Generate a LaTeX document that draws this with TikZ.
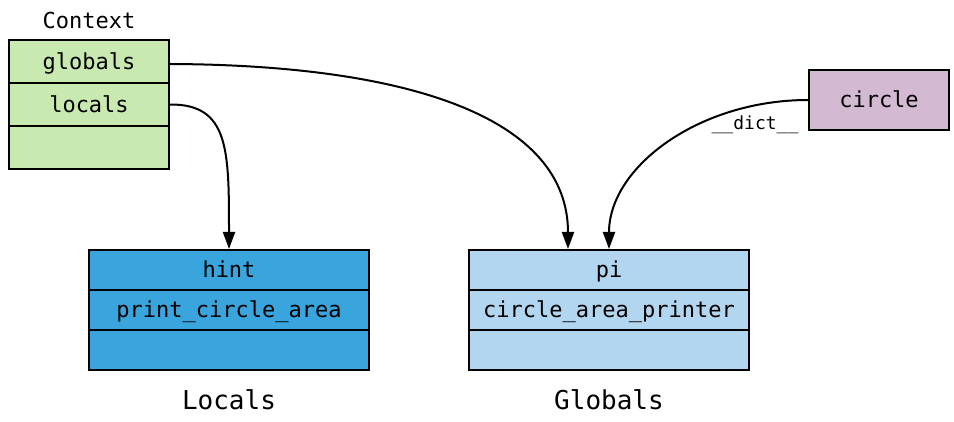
\documentclass[tikz,border=0pt]{standalone}
\usepackage{fontspec}
\setmonofont{DejaVu Sans Mono}
\usetikzlibrary{arrows.meta}
\definecolor{ctxgreen}{RGB}{200,233,175}
\definecolor{locblue}{RGB}{58,164,220}
\definecolor{globblue}{RGB}{178,214,239}
\definecolor{objpurple}{RGB}{211,186,210}
\tikzset{
  cell/.style={draw,line width=1pt,rectangle,inner sep=0pt,text height=10pt,text depth=2.3pt,
    font=\ttfamily\fontsize{11}{13}\selectfont},
  ctxcell/.style={cell,fill=ctxgreen,minimum width=80pt,minimum height=21.5pt},
  loccell/.style={cell,fill=locblue,minimum width=140pt,minimum height=20pt},
  globcell/.style={cell,fill=globblue,minimum width=140pt,minimum height=20pt},
  objcell/.style={cell,fill=objpurple,minimum width=70pt,minimum height=30pt},
  caption/.style={font=\ttfamily\fontsize{13}{15}\selectfont},
  ref/.style={line width=1pt,-{Triangle[length=8.5pt,width=6pt]}}
}
\def\dref{\draw[ref]}

\begin{document}
\begin{tikzpicture}[x=0.5pt,y=-0.5pt]
  \useasboundingbox (0,0) rectangle (954,422);
  % context frame
  \node[font=\ttfamily\fontsize{11}{13}\selectfont] (ctxname) at (89,20) {Context};
  \node[ctxcell] (globals) at (89,61.5) {globals};
  \node[ctxcell] (locals) at (89,104.5) {locals};
  \node[ctxcell] (ctxrest) at (89,148) {};
  % locals
  \node[loccell] (hint) at (229,270) {hint};
  \node[loccell] (pca) at (229,310) {print\_circle\_area};
  \node[loccell] (locrest) at (229,350) {};
  \node[caption] (loccap) at (229,400) {Locals};
  % globals
  \node[globcell] (pi) at (609,270) {pi};
  \node[globcell] (cap) at (609,310) {circle\_area\_printer};
  \node[globcell] (globrest) at (609,350) {};
  \node[caption] (globcap) at (609,400) {Globals};
  % object
  \node[objcell] (circle) at (879,100) {circle};
  \node[font=\ttfamily\fontsize{9}{11}\selectfont] (dict) at (755,125) {\_\_dict\_\_};

  \dref ([yshift=-1.25pt]globals.east) .. controls (410,65) and (568,118) .. ([xshift=-20.5pt]pi.north);
  \dref (locals.east) .. controls (229,104) and (229,150) .. (hint.north);
  \dref (circle.west) .. controls (699,100) and (609,167) .. (pi.north);
\end{tikzpicture}
\end{document}
